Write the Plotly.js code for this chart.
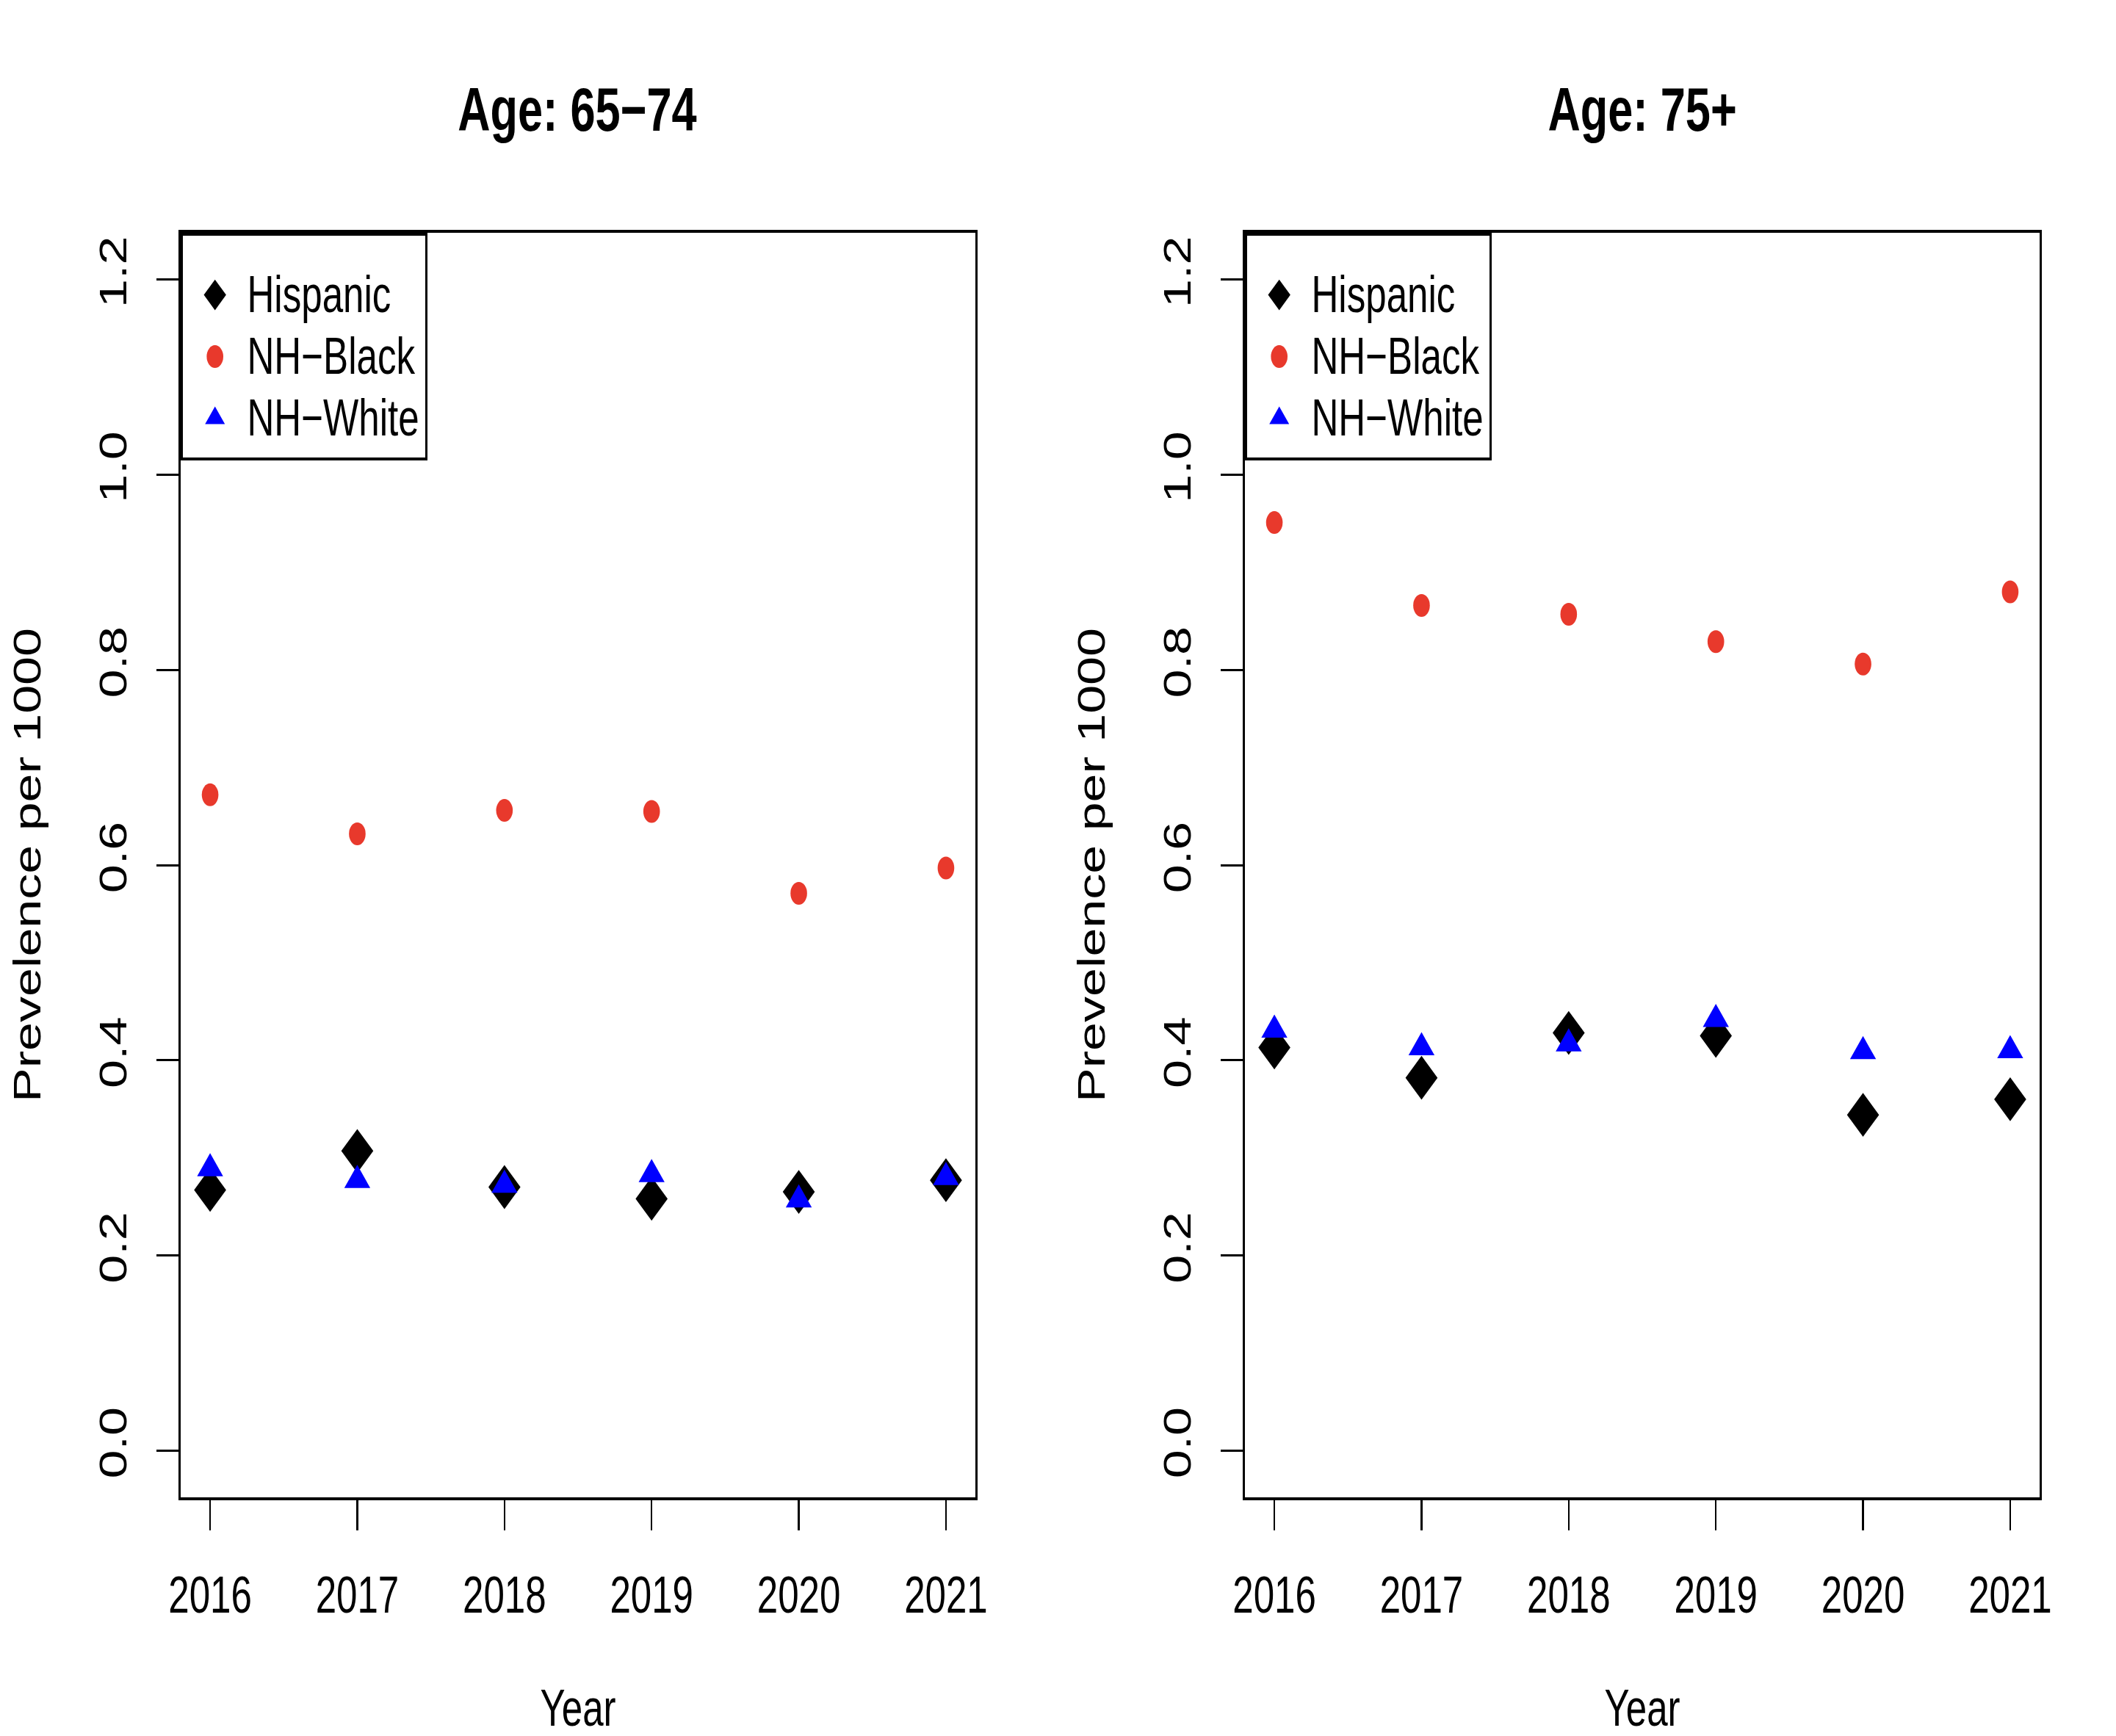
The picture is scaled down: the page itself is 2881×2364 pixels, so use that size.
<!DOCTYPE html>
<html>
<head>
<meta charset="utf-8">
<script src="https://cdn.plot.ly/plotly-3.0.1.min.js"></script>
<style>
  html, body { margin: 0; padding: 0; overflow: hidden; background: #ffffff; }
  #chart { position: absolute; left: 0; top: 0; transform-origin: 0 0; }
</style>
</head>
<body>
<div id="chart"></div>
<script>
// ---- data ----
const years = [2016, 2017, 2018, 2019, 2020, 2021];
const yearLabels = ['2016', '2017', '2018', '2019', '2020', '2021'];
const yTickVals = [0, 0.2, 0.4, 0.6, 0.8, 1.0, 1.2];
const yTickText = ['0.0', '0.2', '0.4', '0.6', '0.8', '1.0', '1.2'];
const seriesNames = ['Hispanic', 'NH\u2212Black', 'NH\u2212White'];
const panelTitles = ['Age: 65\u221274', 'Age: 75+'];

const hispanic6574 = [0.267, 0.307, 0.270, 0.258, 0.265, 0.277];
const black6574    = [0.672, 0.632, 0.656, 0.655, 0.571, 0.597];
const white6574    = [0.289, 0.277, 0.272, 0.283, 0.257, 0.280];

const hispanic75   = [0.413, 0.382, 0.428, 0.425, 0.344, 0.360];
const black75      = [0.951, 0.866, 0.857, 0.829, 0.806, 0.880];
const white75      = [0.431, 0.413, 0.417, 0.442, 0.409, 0.410];

// ---- geometry: the reference is a horizontally squashed R figure ----
const OUT_W = 2881, OUT_H = 2364;
const SY = 2;
const PW = 1974;                 // plotly width (internal units)
const PH = OUT_H / SY;           // 1182
const SX = OUT_W / PW;           // ~1.4595

const el = document.getElementById('chart');
el.style.width = PW + 'px';
el.style.height = PH + 'px';
el.style.transform = 'scale(' + SX + ',' + SY + ')';

const FONT = '"Liberation Sans", Arial, Helvetica, sans-serif';
const BASE = 35;
const LEG_ROW = 30;   // legend row spacing font size
const LEG_TXT = 35;   // legend text size

const xd1 = [246 / OUT_W, 1328 / OUT_W];
const xd2 = [1695 / OUT_W, 2777 / OUT_W];
const yd = [1 - 2039 / OUT_H, 1 - 317 / OUT_H];

const colHisp = '#000000', colBlack = '#E8392C', colWhite = '#0000FF';

function legName(s) {
  return '<span style="font-size:' + LEG_TXT + 'px">' + s + '</span>';
}

function mk(x, y, name, sym, size, color, xa, ya, leg) {
  return {
    type: 'scatter', mode: 'markers', x: x, y: y, name: legName(name),
    xaxis: xa, yaxis: ya, legend: leg,
    marker: { symbol: sym, size: size, color: color, opacity: 1, line: { width: 0 } },
    hoverinfo: 'skip'
  };
}

const traces = [
  mk(years, hispanic6574, seriesNames[0], 'diamond', 23, colHisp, 'x', 'y', 'legend'),
  mk(years, black6574, seriesNames[1], 'circle', 15.5, colBlack, 'x', 'y', 'legend'),
  mk(years, white6574, seriesNames[2], 'triangle-up', 21, colWhite, 'x', 'y', 'legend'),
  mk(years, hispanic75, seriesNames[0], 'diamond', 23, colHisp, 'x2', 'y2', 'legend2'),
  mk(years, black75, seriesNames[1], 'circle', 15.5, colBlack, 'x2', 'y2', 'legend2'),
  mk(years, white75, seriesNames[2], 'triangle-up', 21, colWhite, 'x2', 'y2', 'legend2')
];

function xAxis(domain, anchor) {
  return {
    domain: domain, anchor: anchor, range: [2015.8, 2021.2],
    tickmode: 'array', tickvals: years, ticktext: yearLabels,
    ticks: 'outside', ticklen: 20.5, tickwidth: 1.6, tickcolor: '#000',
    ticklabelstandoff: 14,
    showline: true, mirror: true, linewidth: 2, linecolor: '#000',
    showgrid: false, zeroline: false,
    tickfont: { family: FONT, size: BASE, color: '#000' },
    title: { text: 'Year', font: { family: FONT, size: BASE, color: '#000' }, standoff: 60 }
  };
}
function yAxis(domain, anchor) {
  return {
    domain: domain, anchor: anchor, range: [-0.048, 1.248],
    tickmode: 'array', tickvals: yTickVals, ticktext: yTickText, tickangle: -90,
    ticks: 'outside', ticklen: 20.5, tickwidth: 1.5, tickcolor: '#000',
    ticklabelstandoff: 14,
    showline: true, mirror: true, linewidth: 2, linecolor: '#000',
    showgrid: false, zeroline: false,
    tickfont: { family: FONT, size: BASE, color: '#000' },
    title: { text: 'Prevelence per 1000', font: { family: FONT, size: BASE, color: '#000' }, standoff: 37 }
  };
}

function legendBox(x) {
  return {
    x: x, y: yd[1], xanchor: 'left', yanchor: 'top', xref: 'paper', yref: 'paper',
    bgcolor: '#ffffff', bordercolor: '#000', borderwidth: 2,
    font: { family: FONT, size: LEG_ROW, color: '#000' },
    title: { text: ' ', font: { family: FONT, size: 11, color: '#000' } },
    itemwidth: 50, itemclick: false, itemdoubleclick: false,
    traceorder: 'normal'
  };
}

const layout = {
  width: PW, height: PH, autosize: false,
  margin: { l: 0, r: 0, t: 0, b: 0, pad: 0 },
  paper_bgcolor: '#ffffff', plot_bgcolor: '#ffffff',
  showlegend: true,
  font: { family: FONT, size: BASE, color: '#000' },
  xaxis: xAxis(xd1, 'y'),
  yaxis: yAxis(yd, 'x'),
  xaxis2: xAxis(xd2, 'y2'),
  yaxis2: yAxis(yd, 'x2'),
  legend: legendBox(xd1[0]),
  legend2: legendBox(xd2[0]),
  annotations: [
    { text: '<b>' + panelTitles[0] + '</b>', x: (xd1[0] + xd1[1]) / 2, y: 1 - 149.5 / OUT_H,
      xref: 'paper', yref: 'paper', xanchor: 'center', yanchor: 'middle', showarrow: false,
      font: { family: FONT, size: 42, color: '#000' } },
    { text: '<b>' + panelTitles[1] + '</b>', x: (xd2[0] + xd2[1]) / 2, y: 1 - 149.5 / OUT_H,
      xref: 'paper', yref: 'paper', xanchor: 'center', yanchor: 'middle', showarrow: false,
      font: { family: FONT, size: 42, color: '#000' } }
  ]
};

Plotly.newPlot(el, traces, layout, { staticPlot: true, displayModeBar: false });
</script>
</body>
</html>
